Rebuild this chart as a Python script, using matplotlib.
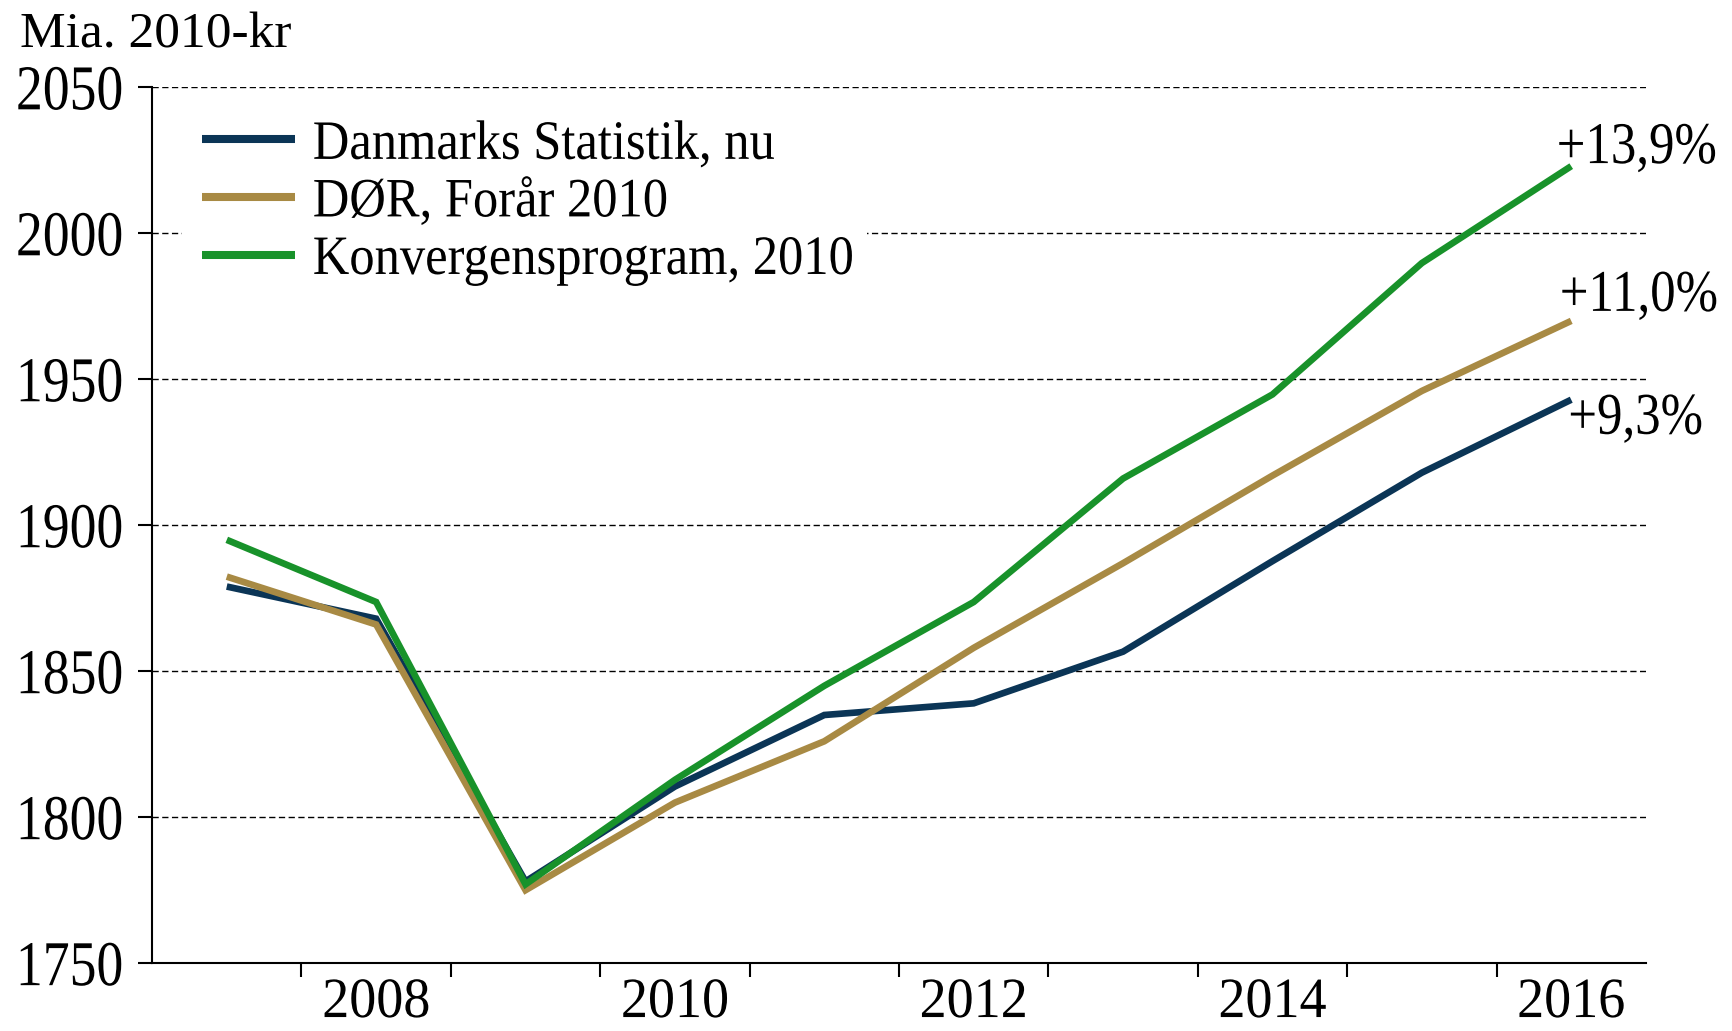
import matplotlib
matplotlib.use('Agg')
import matplotlib.pyplot as plt
from matplotlib.patheffects import AbstractPathEffect
from matplotlib.transforms import Affine2D
from matplotlib.patches import Rectangle

# Data
years = [2007, 2008, 2009, 2010, 2011, 2012, 2013, 2014, 2015, 2016]
dst = [1879, 1868, 1778, 1810.5, 1835, 1839, 1856.7, 1887.7, 1918, 1943]
dor = [1882.4, 1866, 1775, 1805, 1826, 1858, 1887, 1917, 1946, 1970]
konv = [1895, 1873.7, 1777, 1812.8, 1845, 1873.7, 1916, 1944.8, 1989.8, 2023]

names = ['Danmarks Statistik, nu', 'DØR, Forår 2010', 'Konvergensprogram, 2010']
pct_labels = ['+9,3%', '+11,0%', '+13,9%']
colors = ['#0b3556', '#a88a44', '#18922a']
yticks = [1750, 1800, 1850, 1900, 1950, 2000, 2050]
xlabels = ['2008', '2010', '2012', '2014', '2016']


# the original uses a narrow Times; squeeze the glyphs horizontally
class Narrow(AbstractPathEffect):
    def __init__(self, sx, anchor='left'):
        super().__init__()
        self.sx = sx
        self.anchor = anchor

    def draw_path(self, renderer, gc, tpath, affine, rgbFace=None):
        bb = tpath.get_extents(affine)
        if self.anchor == 'origin':
            x0 = affine.get_matrix()[0, 2]
        else:
            x0 = {'left': bb.x0, 'center': 0.5 * (bb.x0 + bb.x1), 'right': bb.x1}[self.anchor]
        squeeze = Affine2D().translate(-x0, 0).scale(self.sx, 1).translate(x0, 0)
        renderer.draw_path(gc, tpath, affine + squeeze, rgbFace)


plt.rcParams['font.family'] = ['Liberation Serif', 'DejaVu Serif']

fig = plt.figure(figsize=(17.32, 10.31), dpi=100)
ax = fig.add_axes([0.0878, 0.0658, 0.8625, 0.8495])

for vals, c, name in zip([dst, dor, konv], colors, names):
    ax.plot(years, vals, color=c, lw=4.8, solid_capstyle='butt',
            solid_joinstyle='miter', label=name)

ax.set_xlim(2006.5, 2016.5)
ax.set_ylim(1750, 2050)

# y axis (labels start near the figure edge, squeezed from their left side)
ax.set_yticks(yticks)
ax.yaxis.grid(True, linestyle=(0, (4.5, 2.5)), color='black', lw=1.0)
ax.tick_params(axis='y', direction='out', length=10, width=1.5, pad=88,
               labelsize=46)
for lbl in ax.get_yticklabels():
    lbl.set_ha('left')
    lbl.set_path_effects([Narrow(0.84, 'origin')])

# x axis: tick marks between years, labels on every other year
ax.set_xticks([y + 0.5 for y in years[:-1]])
ax.set_xticks([int(s) for s in xlabels], minor=True)
ax.set_xticklabels(xlabels, minor=True)
ax.tick_params(axis='x', which='major', direction='out', length=10, width=1.5,
               labelbottom=False)
ax.tick_params(axis='x', which='minor', length=0, pad=10, labelsize=41)
for lbl in ax.get_xticklabels(minor=True):
    lbl.set_path_effects([Narrow(0.95, 'center')])

for s in ['top', 'right']:
    ax.spines[s].set_visible(False)
for s in ['left', 'bottom']:
    ax.spines[s].set_linewidth(1.5)

# legend
leg = ax.legend(loc='upper left', bbox_to_anchor=(0.0335, 0.964), frameon=False,
                fontsize=40, handlelength=1.67, handletextpad=0.32,
                labelspacing=0.1, borderpad=0, borderaxespad=0)
for line in leg.get_lines():
    line.set_linewidth(5.8)
    line.set_solid_capstyle('butt')
for t in leg.get_texts():
    t.set_path_effects([Narrow(0.91)])

# white box behind the legend cuts the 2000 gridline
ax.add_patch(Rectangle((0.020, 0.80), 0.4586, 0.10, transform=ax.transAxes,
                       facecolor='white', edgecolor='none', zorder=1.8))

# end labels (right aligned so the squeezed text stays inside the figure)
offsets = [(95, -24.5), (106, 7.2), (105, 2.2)]
for vals, lab, off in zip([dst, dor, konv], pct_labels, offsets):
    ax.annotate(lab, xy=(years[-1], vals[-1]), xytext=off,
                textcoords='offset points', ha='right', va='baseline',
                fontsize=42.6, path_effects=[Narrow(0.86, 'right')],
                annotation_clip=False)

fig.text(20 / 1732, 1 - 47 / 1031, 'Mia. 2010-kr', fontsize=37,
         ha='left', va='baseline')

plt.savefig('out.png', dpi=100)
